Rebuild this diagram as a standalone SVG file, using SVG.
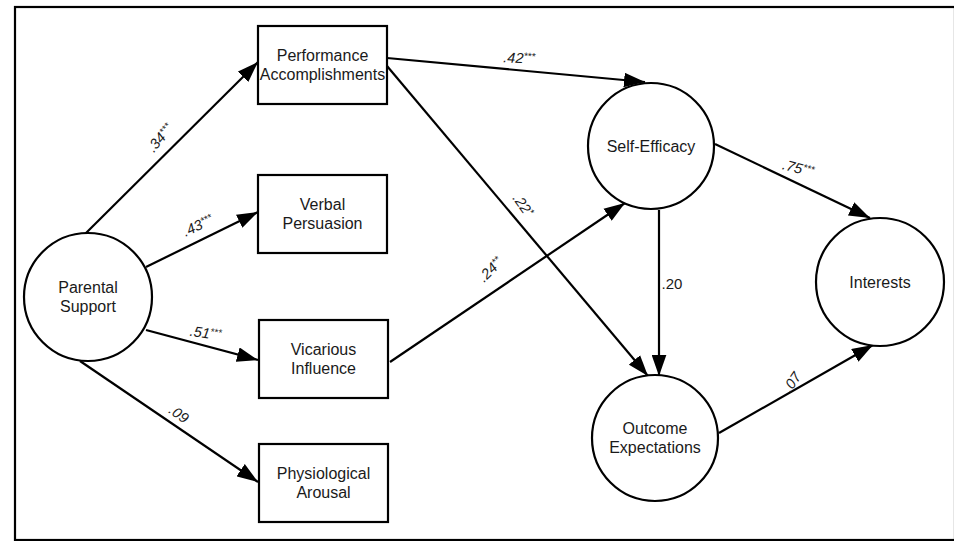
<svg xmlns="http://www.w3.org/2000/svg" width="954" height="541" viewBox="0 0 954 541">
<style>
.box{fill:#fff;stroke:#000;stroke-width:2.2}
.node text{font-family:"Liberation Sans",Arial,sans-serif;font-size:16px;fill:#1a1a1a;text-anchor:middle}
.edge{stroke:#000;stroke-width:2.2;fill:none;marker-end:url(#ah)}
.lbl{font-family:"Liberation Sans",Arial,sans-serif;font-size:14.5px;fill:#1a1a1a;text-anchor:middle;font-style:italic}
.st{font-size:10px}
</style>
<defs>
<marker id="ah" viewBox="0 0 20 14" refX="20" refY="7" markerWidth="21" markerHeight="15" markerUnits="userSpaceOnUse" orient="auto">
<path d="M0,0 L20,7 L0,14 Z" fill="#000"/>
</marker>
</defs>
<rect x="15" y="7" width="940" height="533" fill="#fff" stroke="#000" stroke-width="2.2"/>
<g id="connectors">
<line class="edge" x1="84" y1="235" x2="258" y2="62"/>
<line class="edge" x1="146" y1="267" x2="258" y2="212"/>
<line class="edge" x1="146" y1="330" x2="258" y2="360"/>
<line class="edge" x1="80" y1="361" x2="258" y2="482"/>
<line class="edge" x1="387" y1="58" x2="645" y2="82"/>
<line class="edge" x1="387" y1="66" x2="648" y2="376"/>
<line class="edge" x1="390" y1="362" x2="625" y2="203"/>
<line class="edge" x1="659" y1="210" x2="659" y2="376"/>
<line class="edge" x1="715" y1="144" x2="870" y2="218"/>
<line class="edge" x1="719" y1="433" x2="873" y2="345"/>
<text class="lbl" transform="translate(164,141) rotate(-50)">.34<tspan class="st" dy="-4">***</tspan></text>
<text class="lbl" transform="translate(200,230) rotate(-25)">.43<tspan class="st" dy="-4">***</tspan></text>
<text class="lbl" transform="translate(205,338) rotate(8)">.51<tspan class="st" dy="-4">***</tspan></text>
<text class="lbl" transform="translate(176,418) rotate(35)">.09</text>
<text class="lbl" transform="translate(519,63) rotate(3)">.42<tspan class="st" dy="-4">***</tspan></text>
<text class="lbl" transform="translate(519,208) rotate(55)">.22<tspan class="st" dy="-4">*</tspan></text>
<text class="lbl" transform="translate(494,273) rotate(-45)">.24<tspan class="st" dy="-4">**</tspan></text>
<text class="lbl" style="font-style:normal;font-size:15px" x="672" y="289">.20</text>
<text class="lbl" transform="translate(797,173) rotate(15)">.75<tspan class="st" dy="-4">***</tspan></text>
<text class="lbl" transform="translate(796,385) rotate(-55)">.07</text>
</g>
<g id="parental" class="node"><circle class="box" cx="88" cy="297" r="64"/><text x="88" y="293">Parental</text><text x="88" y="312">Support</text></g>
<g id="performance" class="node"><rect class="box" x="258" y="26" width="129" height="78"/><text x="322.5" y="61">Performance</text><text x="322.5" y="80">Accomplishments</text></g>
<g id="verbal" class="node"><rect class="box" x="258" y="175" width="129" height="78"/><text x="322.5" y="210">Verbal</text><text x="322.5" y="229">Persuasion</text></g>
<g id="vicarious" class="node"><rect class="box" x="259" y="320" width="129" height="78"/><text x="323.5" y="355">Vicarious</text><text x="323.5" y="374">Influence</text></g>
<g id="physiological" class="node"><rect class="box" x="259" y="444" width="129" height="78"/><text x="323.5" y="479">Physiological</text><text x="323.5" y="498">Arousal</text></g>
<g id="selfefficacy" class="node"><circle class="box" cx="651" cy="146" r="63"/><text x="651" y="152">Self-Efficacy</text></g>
<g id="outcome" class="node"><circle class="box" cx="655" cy="438" r="63"/><text x="655" y="434">Outcome</text><text x="655" y="453">Expectations</text></g>
<g id="interests" class="node"><circle class="box" cx="880" cy="282" r="64"/><text x="880" y="288">Interests</text></g>
</svg>
